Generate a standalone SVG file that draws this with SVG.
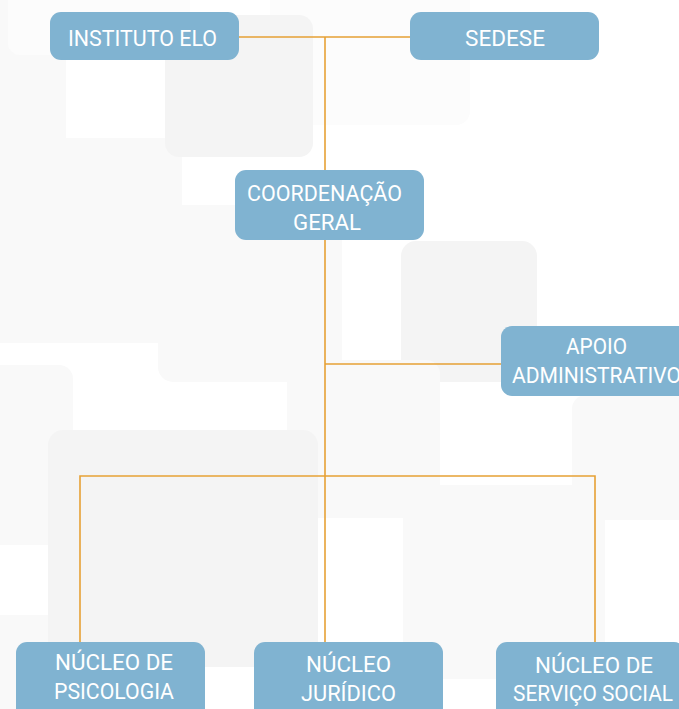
<svg xmlns="http://www.w3.org/2000/svg" width="679" height="709" viewBox="0 0 679 709">
<style>
.bg1{fill:#f9f9f9}
.bg2{fill:#f4f4f4}
.bg3{fill:#fcfcfc}
.node rect{fill:#80b3d1}
.node text{fill:#ffffff;font-family:Roboto,"Liberation Sans",sans-serif;font-size:22px;font-weight:400;text-anchor:middle}
.conn{stroke:#e6a135;stroke-width:1.6;fill:none}
</style>
<rect width="679" height="709" fill="#ffffff"/>
<g id="background">
<rect class="bg1" x="-20" y="-20" width="86" height="188" rx="12"/>
<rect class="bg3" x="8" y="-20" width="182" height="75" rx="12"/>
<rect class="bg3" x="270" y="-20" width="200" height="145" rx="14"/>
<rect class="bg1" x="-20" y="138" width="202" height="205" rx="12"/>
<rect class="bg2" x="165" y="15" width="148" height="142" rx="14"/>
<rect class="bg1" x="158" y="205" width="184" height="177" rx="15"/>
<rect class="bg2" x="401" y="241" width="136" height="141" rx="15"/>
<rect class="bg1" x="-20" y="365" width="93" height="180" rx="14"/>
<rect class="bg1" x="287" y="360" width="153" height="158" rx="14"/>
<rect class="bg1" x="572" y="395" width="130" height="125" rx="14"/>
<rect class="bg1" x="-20" y="615" width="127" height="120" rx="14"/>
<rect class="bg2" x="48" y="430" width="270" height="237" rx="15"/>
<rect class="bg1" x="403" y="485" width="202" height="194" rx="15"/>
</g>
<g id="connectors">
<path class="conn" d="M239 37 H410"/>
<path class="conn" d="M325 37 V170"/>
<path class="conn" d="M325 240 V642"/>
<path class="conn" d="M325 364 H501"/>
<path class="conn" d="M80 642 V476 H595 V642"/>
</g>
<g id="instituto-elo" class="node">
<rect x="50" y="12" width="189" height="48" rx="11"/>
<text x="142.5" y="46" textLength="149" lengthAdjust="spacingAndGlyphs">INSTITUTO ELO</text>
</g>
<g id="sedese" class="node">
<rect x="410" y="12" width="189" height="48" rx="11"/>
<text x="505" y="46" textLength="80" lengthAdjust="spacingAndGlyphs">SEDESE</text>
</g>
<g id="coordenacao-geral" class="node">
<rect x="235" y="170" width="189" height="70" rx="11"/>
<text x="324.5" y="201" textLength="155" lengthAdjust="spacingAndGlyphs">COORDENAÇÃO</text>
<text x="327" y="230" textLength="68" lengthAdjust="spacingAndGlyphs">GERAL</text>
</g>
<g id="apoio-administrativo" class="node">
<rect x="501" y="326" width="189" height="70" rx="11"/>
<text x="596.5" y="354" textLength="61" lengthAdjust="spacingAndGlyphs">APOIO</text>
<text x="596.5" y="383" textLength="169" lengthAdjust="spacingAndGlyphs">ADMINISTRATIVO</text>
</g>
<g id="nucleo-psicologia" class="node">
<rect x="16" y="642" width="189" height="80" rx="11"/>
<text x="114" y="670" textLength="118" lengthAdjust="spacingAndGlyphs">NÚCLEO DE</text>
<text x="114" y="699" textLength="120" lengthAdjust="spacingAndGlyphs">PSICOLOGIA</text>
</g>
<g id="nucleo-juridico" class="node">
<rect x="254" y="642" width="189" height="80" rx="11"/>
<text x="348.5" y="672" textLength="85" lengthAdjust="spacingAndGlyphs">NÚCLEO</text>
<text x="348.5" y="701" textLength="95" lengthAdjust="spacingAndGlyphs">JURÍDICO</text>
</g>
<g id="nucleo-servico-social" class="node">
<rect x="496" y="642" width="189" height="80" rx="11"/>
<text x="594" y="673" textLength="118" lengthAdjust="spacingAndGlyphs">NÚCLEO DE</text>
<text x="593" y="701" textLength="160" lengthAdjust="spacingAndGlyphs">SERVIÇO SOCIAL</text>
</g>
</svg>
